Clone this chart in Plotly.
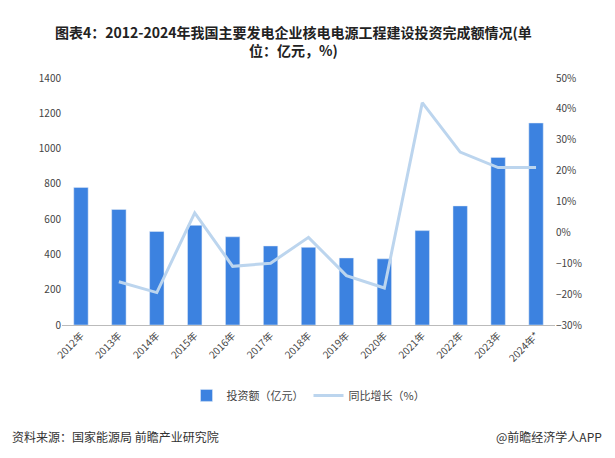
import plotly.graph_objects as go

years = ["2012年", "2013年", "2014年", "2015年", "2016年", "2017年", "2018年",
         "2019年", "2020年", "2021年", "2022年", "2023年", "2024年*"]
invest = [780, 655, 530, 565, 500, 448, 440, 380, 375, 535, 675, 950, 1145]
growth = [None, -16.0, -19.5, 6.3, -11.0, -10.0, -1.6, -14.0, -18.0, 42.0, 26.0, 21.0, 21.0]

fig = go.Figure()
fig.add_trace(go.Bar(x=years, y=invest, name="投资额（亿元）", marker_color="#3c82e0", width=0.38))
fig.add_trace(go.Scatter(x=years, y=growth, name="同比增长（%）", yaxis="y2", mode="lines",
                         line=dict(color="#bcd5ee", width=3)))

font = "Noto Sans CJK SC"
fig.update_layout(
    width=615, height=458, plot_bgcolor="white", paper_bgcolor="white",
    font=dict(family=font, size=11, color="#444"),
    margin=dict(l=54, r=68, t=70, b=141, autoexpand=False),
    xaxis=dict(tickangle=-45, showline=True, linecolor="#bbb", ticks="", tickfont=dict(size=10)),
    yaxis=dict(range=[0, 1400], dtick=200, showgrid=False, ticks="", tickfont=dict(size=10)),
    yaxis2=dict(overlaying="y", side="right", range=[-30, 50], dtick=10, ticksuffix="%",
                showgrid=False, tickfont=dict(size=10)),
    legend=dict(orientation="h", x=0.5, xanchor="center", y=-0.285, yanchor="middle",
                font=dict(size=11)),
    bargap=0.5,
)
fig.add_annotation(text="<b>图表4：2012-2024年我国主要发电企业核电电源工程建设投资完成额情况(单<br>位：亿元，%)</b>",
                   xref="paper", yref="paper", x=0.47, y=1.235, xanchor="center", yanchor="top",
                   showarrow=False, align="center", font=dict(size=14, color="#222"))
fig.add_annotation(text="资料来源：国家能源局 前瞻产业研究院", xref="paper", yref="paper",
                   x=-0.105, y=-0.45, xanchor="left", yanchor="middle", showarrow=False,
                   font=dict(size=12, color="#333"))
fig.add_annotation(text="@前瞻经济学人APP", xref="paper", yref="paper",
                   x=1.1, y=-0.45, xanchor="right", yanchor="middle", showarrow=False,
                   font=dict(size=12, color="#333"))
fig.write_html("out.html")
